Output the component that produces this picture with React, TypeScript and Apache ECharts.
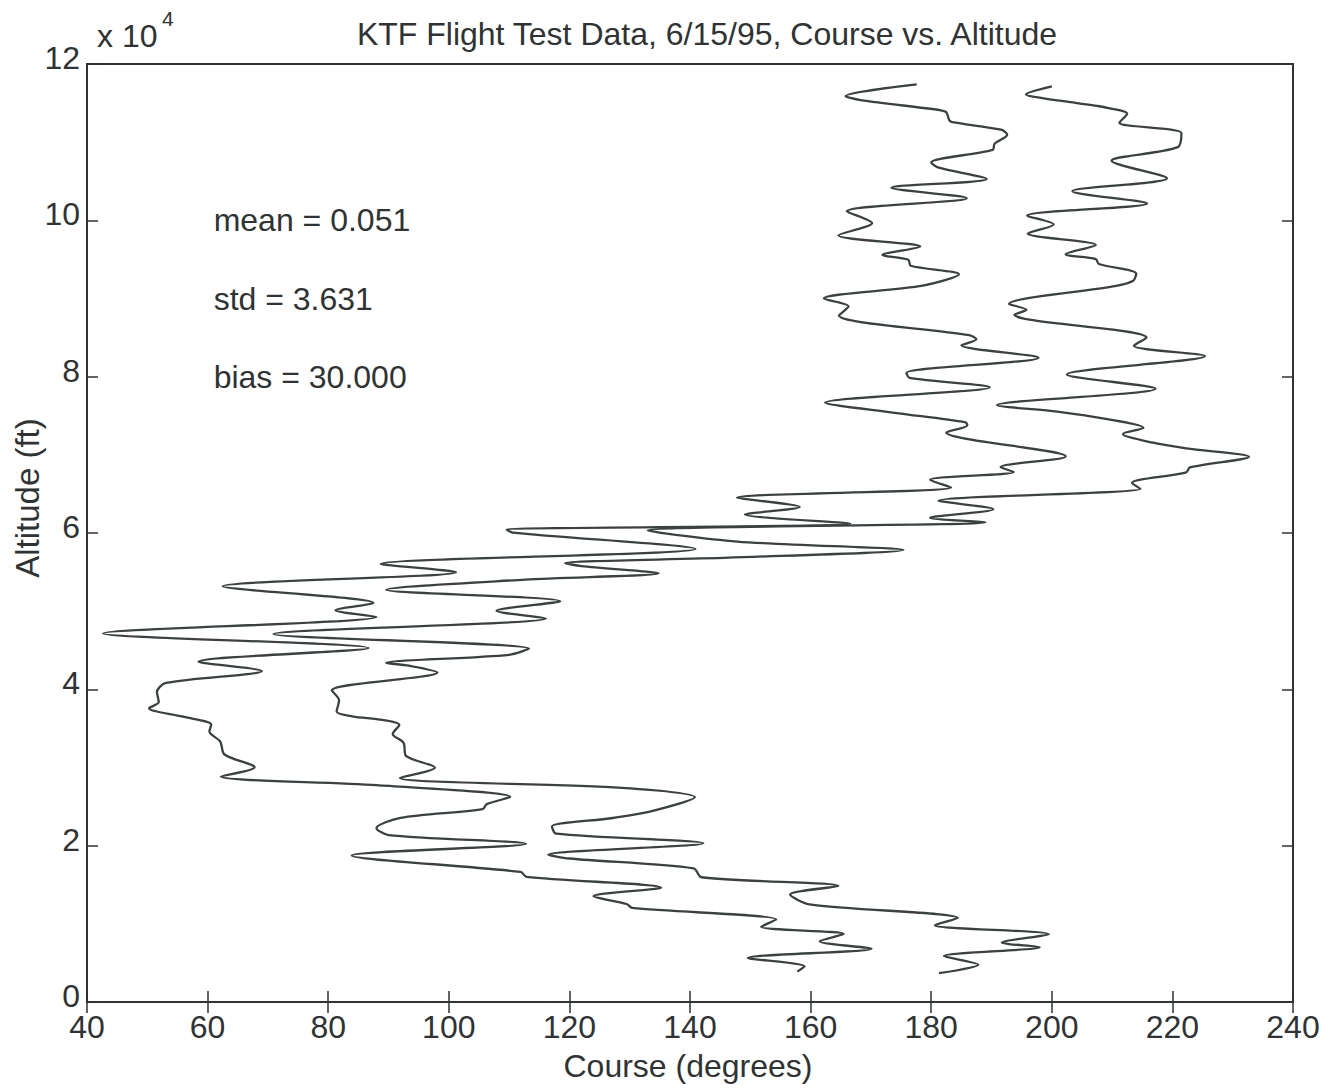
import React, { useEffect, useRef } from "react";
import * as echarts from "echarts";

// Curve 1 (measured course), listed from top (high altitude) to bottom
const courseA = [
  177.6, 165.8, 168.3, 181.6, 182.5, 183.0, 183.5, 191.6, 192.6, 190.5,
  190.2, 180.0, 181.1, 189.2, 173.4, 185.9, 166.0, 170.2, 164.6, 178.2,
  171.9, 176.2, 176.6, 184.6, 178.6, 162.2, 166.3, 164.7, 186.3, 187.5,
  185.0, 197.8, 175.9, 176.4, 189.7, 162.4, 174.3, 185.7, 186.0, 182.5,
  202.3, 191.5, 193.7, 179.8, 183.3, 147.8, 158.2, 149.1, 166.6, 109.6,
  110.6, 140.9, 88.7, 101.2, 62.5, 87.5, 81.2, 88.0, 42.7, 86.7,
  58.5, 69.0, 53.1, 51.6, 51.9, 50.3, 56.1, 60.6, 60.3, 62.1,
  62.8, 67.8, 62.2, 88.0, 110.2, 106.3, 105.6, 92.0, 88.0, 90.0,
  112.8, 83.9, 111.9, 112.9, 135.2, 124.0, 129.5, 130.4, 154.3, 151.8,
  165.5, 161.5, 170.1, 149.6, 159.0, 157.8,
];
const altitudeA = [
  117400, 115890, 115390, 114080, 113830, 112810, 112550, 111590, 110950, 109790,
  109010, 107410, 106770, 105290, 104160, 102840, 101160, 99650, 98080, 96640,
  95570, 94960, 94190, 93100, 91640, 89990, 89000, 87830, 85300, 84790,
  84010, 82430, 80480, 79850, 78660, 76680, 75350, 74150, 73770, 72850,
  69790, 68430, 67800, 66810, 65810, 64530, 63330, 62370, 61210, 60420,
  60050, 57950, 56050, 54990, 53180, 51050, 50110, 49260, 47150, 45280,
  43540, 42340, 40820, 39650, 38370, 37590, 36480, 35490, 34590, 33320,
  31660, 30030, 28840, 27740, 26240, 25310, 24670, 23550, 22240, 21360,
  20230, 18750, 16640, 16010, 14630, 13530, 12540, 12030, 10540, 9620,
  8700, 7770, 6810, 5640, 4550, 3900,
];

// Curve 2 (course + bias), listed from top to bottom
const courseB = [
  200.0, 195.7, 198.7, 204.2, 207.5, 209.2, 212.5, 211.2, 221.5, 220.9,
  209.9, 219.1, 203.4, 215.8, 195.9, 200.3, 196.0, 207.3, 202.3, 207.3,
  207.8, 214.0, 213.5, 210.7, 192.9, 195.8, 193.8, 196.3, 215.7, 213.6,
  225.4, 202.5, 217.2, 190.9, 200.9, 209.2, 215.2, 211.8, 216.8, 222.3,
  232.7, 222.9, 222.3, 213.3, 214.7, 181.2, 190.3, 179.8, 189.0, 133.0,
  147.8, 175.4, 146.4, 119.3, 122.0, 134.8, 112.7, 89.6, 118.5, 107.9,
  116.1, 70.9, 113.3, 110.0, 89.6, 93.4, 98.1, 80.6, 81.8, 81.4,
  84.0, 89.0, 91.8, 90.7, 92.5, 92.9, 97.7, 91.9, 128.7, 140.8,
  134.0, 127.2, 117.1, 117.8, 142.2, 116.5, 120.0, 140.6, 141.9, 164.6,
  156.6, 159.8, 184.4, 180.6, 199.5, 191.7, 198.0, 182.1, 187.8, 181.3,
];
const altitudeB = [
  117150, 116100, 115610, 115000, 114640, 114400, 113650, 112490, 111160, 109360,
  107620, 105380, 103730, 102150, 100600, 99480, 98300, 96840, 95650, 95050,
  94410, 93170, 92270, 91610, 89310, 88560, 87910, 87290, 84990, 83950,
  82630, 80290, 78470, 76360, 75540, 74570, 73460, 72670, 71550, 70820,
  69740, 68390, 67750, 66400, 65650, 64130, 63040, 61940, 61370, 60330,
  58900, 57810, 56840, 56140, 55770, 54840, 54040, 52730, 51270, 50040,
  49070, 47090, 45210, 44420, 43380, 43020, 42160, 39860, 38590, 37170,
  36550, 36080, 35450, 34290, 33150, 31490, 29990, 28670, 27390, 26190,
  24480, 23540, 22440, 21550, 20310, 18850, 18360, 17100, 15960, 14840,
  13760, 12500, 10750, 9830, 8680, 7600, 7000, 5870, 4750, 3690,
];

const statTexts = ["mean = 0.051", "std = 3.631", "bias = 30.000"];
const statAltitudes = [100000, 90000, 80000];
const statCourse = 61;

const titleText = "KTF Flight Test Data, 6/15/95, Course vs. Altitude";
const xName = "Course (degrees)";
const yName = "Altitude (ft)";

export default function App() {
  const ref = useRef<HTMLDivElement>(null);

  useEffect(() => {
    document.body.style.margin = "0";
    const chart = echarts.init(ref.current!, null, { renderer: "svg" });
    const fontFamily = "'Liberation Sans', Arial, Helvetica, sans-serif";
    const ink = "#2f3333";
    const lineColor = "#3b4141";
    const fs = 32;

    const pairs = (xs: number[], ys: number[]) => xs.map((x, i) => [x, ys[i]]);

    const tickCommon = {
      show: true,
      inside: true,
      length: 11,
      lineStyle: { color: ink, width: 1.5 },
    };

    chart.setOption({
      animation: false,
      backgroundColor: "#ffffff",
      textStyle: { fontFamily },
      title: {
        text: titleText,
        left: 702,
        top: 13,
        textAlign: "center",
        textStyle: { fontFamily, fontSize: fs, fontWeight: "normal", color: ink },
      },
      grid: {
        left: 87,
        right: 38,
        top: 64,
        bottom: 89,
        show: true,
        borderColor: ink,
        borderWidth: 2,
        backgroundColor: "transparent",
      },
      xAxis: [
        {
          type: "value",
          min: 40,
          max: 240,
          interval: 20,
          position: "bottom",
          axisLine: { show: true, lineStyle: { color: ink, width: 2 } },
          axisTick: tickCommon,
          splitLine: { show: false },
          axisLabel: { color: ink, fontSize: fs, fontFamily, margin: 12, lineHeight: 26 },
        },
        {
          type: "value",
          min: 40,
          max: 240,
          interval: 20,
          position: "top",
          axisLine: { show: true, lineStyle: { color: ink, width: 2 } },
          axisTick: tickCommon,
          splitLine: { show: false },
          axisLabel: { show: false },
        },
      ],
      yAxis: [
        {
          type: "value",
          min: 0,
          max: 120000,
          interval: 20000,
          position: "left",
          axisLine: { show: true, lineStyle: { color: ink, width: 2 } },
          axisTick: tickCommon,
          splitLine: { show: false },
          axisLabel: {
            color: ink,
            fontSize: fs,
            fontFamily,
            margin: 7,
            lineHeight: 12,
            verticalAlign: "bottom",
            formatter: (v: number) => String(v / 10000),
          },
        },
        {
          type: "value",
          min: 0,
          max: 120000,
          interval: 20000,
          position: "right",
          axisLine: { show: true, lineStyle: { color: ink, width: 2 } },
          axisTick: tickCommon,
          splitLine: { show: false },
          axisLabel: { show: false },
        },
      ],
      series: [
        {
          type: "line",
          name: "course",
          data: pairs(courseA, altitudeA),
          xAxisIndex: 0,
          yAxisIndex: 0,
          showSymbol: false,
          smooth: 0.3,
          lineStyle: { color: lineColor, width: 2.3 },
          z: 3,
        },
        {
          type: "line",
          name: "course + bias",
          data: pairs(courseB, altitudeB),
          xAxisIndex: 0,
          yAxisIndex: 0,
          showSymbol: false,
          smooth: 0.3,
          lineStyle: { color: lineColor, width: 2.3 },
          z: 3,
        },
        {
          type: "scatter",
          name: "stats",
          data: statAltitudes.map((a, i) => ({ value: [statCourse, a], name: statTexts[i] })),
          symbolSize: 0,
          silent: true,
          itemStyle: { opacity: 1 },
          label: {
            show: true,
            position: "right",
            distance: 0,
            formatter: (p: any) => p.name,
            color: ink,
            opacity: 1,
            fontSize: fs,
            fontFamily,
          },
        },
      ],
      graphic: [
        {
          type: "text",
          left: 97,
          top: 20,
          style: { text: "x 10", fill: ink, font: `${fs}px ${fontFamily}` },
        },
        {
          type: "text",
          left: 162,
          top: 8,
          style: { text: "4", fill: ink, font: `21px ${fontFamily}` },
        },
        {
          type: "text",
          x: 688,
          y: 1066,
          style: {
            text: xName,
            fill: ink,
            font: `${fs}px ${fontFamily}`,
            align: "center",
            verticalAlign: "middle",
          },
        },
        {
          type: "text",
          x: 27,
          y: 498,
          rotation: Math.PI / 2,
          style: {
            text: yName,
            fill: ink,
            font: `33px ${fontFamily}`,
            align: "center",
            verticalAlign: "middle",
          },
        },
      ],
    });

    return () => chart.dispose();
  }, []);

  return <div ref={ref} style={{ width: 1331, height: 1091, background: "#fff" }} />;
}
